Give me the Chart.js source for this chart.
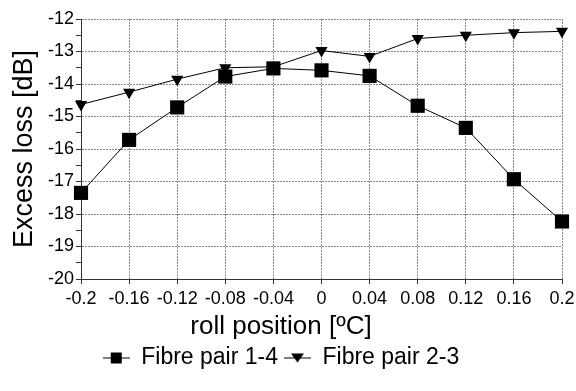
<!DOCTYPE html>
<html>
<head>
<meta charset="utf-8">
<script src="https://cdn.jsdelivr.net/npm/chart.js@4.4.1/dist/chart.umd.min.js"></script>
<style>
  html, body { margin: 0; padding: 0; background: #fff; }
  #wrap { width: 576px; height: 391px; }
</style>
</head>
<body>
<div id="wrap"><canvas id="lossChart" width="576" height="391"></canvas></div>
<script>
const rollPositions = ['-0.2', '-0.16', '-0.12', '-0.08', '-0.04', '0', '0.04', '0.08', '0.12', '0.16', '0.2'];
const pair14Loss = [-17.35, -15.72, -14.72, -13.77, -13.52, -13.58, -13.75, -14.67, -15.35, -16.93, -18.23];
const pair23Loss = [-14.63, -14.25, -13.85, -13.5, -13.47, -12.97, -13.15, -12.6, -12.5, -12.42, -12.38];
const seriesNames = ['Fibre pair 1-4', 'Fibre pair 2-3'];

const FONT = "'Liberation Sans', Arial, sans-serif";

// small line-with-marker icons for the legend
function legendIcon(kind) {
    const c = document.createElement('canvas');
    c.width = 27; c.height = 14;
    const g = c.getContext('2d');
    g.strokeStyle = '#000';
    g.lineWidth = 1;
    g.beginPath(); g.moveTo(0, 7.5); g.lineTo(27, 7.5); g.stroke();
    g.fillStyle = '#000';
    if (kind === 'rect') {
        g.fillRect(8, 2, 11, 11);
    } else {
        g.beginPath(); g.moveTo(7, 3); g.lineTo(20, 3); g.lineTo(13.5, 12); g.closePath(); g.fill();
    }
    return c;
}
const icons = [legendIcon('rect'), legendIcon('tri')];

const ctx = document.getElementById('lossChart').getContext('2d');
const lossChart = new Chart(ctx, {
    type: 'line',
    data: {
        labels: rollPositions,
        datasets: [{
            label: seriesNames[0],
            data: pair14Loss,
            borderColor: '#000',
            backgroundColor: '#000',
            borderWidth: 1,
            pointStyle: 'rect',
            pointRadius: 10,
            pointBackgroundColor: '#000',
            pointBorderWidth: 0,
            tension: 0
        }, {
            label: seriesNames[1],
            data: pair23Loss,
            borderColor: '#000',
            backgroundColor: '#000',
            borderWidth: 1,
            pointStyle: 'triangle',
            pointRotation: 180,
            pointRadius: 7,
            pointBackgroundColor: '#000',
            pointBorderWidth: 0,
            tension: 0
        }]
    },
    options: {
        responsive: false,
        animation: false,
        layout: { padding: { left: 0, right: 14, top: 19, bottom: 12 } },
        scales: {
            x: {
                type: 'category',
                offset: false,
                afterFit: (scale) => { scale.paddingRight = 0; scale.paddingLeft = 0; },
                grid: {
                    color: '#8a8a8a',
                    tickColor: '#333',
                    tickLength: 5
                },
                border: { color: '#333', width: 1, dash: [2, 1] },
                ticks: {
                    color: '#000',
                    font: { family: FONT, size: 18, lineHeight: 1 },
                    padding: 6,
                    maxRotation: 0,
                    autoSkip: false
                }
            },
            y: {
                min: -20,
                max: -12,
                afterFit: (scale) => { scale.width = 81; },
                grid: {
                    color: (c) => Number.isInteger(c.tick.value) ? '#8a8a8a' : 'rgba(0,0,0,0)',
                    tickColor: '#333',
                    tickLength: 5
                },
                border: { color: '#333', width: 1, dash: [2, 1] },
                ticks: {
                    stepSize: 0.5,
                    autoSkip: false,
                    color: '#000',
                    font: { family: FONT, size: 18 },
                    padding: 2,
                    callback: (v) => Number.isInteger(v) ? String(v) : ''
                },
                title: {
                    display: true,
                    text: 'Excess loss [dB]',
                    color: '#000',
                    font: { family: FONT, size: 27 },
                    padding: { top: 8, bottom: 0 }
                }
            }
        },
        plugins: {
            title: {
                display: true,
                position: 'bottom',
                text: 'roll position [ºC]',
                color: '#000',
                font: { family: FONT, size: 26, weight: 'normal', lineHeight: 1 },
                padding: { top: 0, bottom: 0 },
                weight: 100
            },
            legend: {
                position: 'bottom',
                weight: 500,
                labels: {
                    color: '#000',
                    font: { family: FONT, size: 23 },
                    usePointStyle: true,
                    pointStyleWidth: 27,
                    boxHeight: 14,
                    padding: 6,
                    generateLabels: (chart) => {
                        const items = Chart.defaults.plugins.legend.labels.generateLabels(chart);
                        items.forEach((it, i) => { it.pointStyle = icons[i]; it.rotation = 0; });
                        return items;
                    }
                }
            },
            tooltip: { enabled: false }
        }
    }
});
</script>
</body>
</html>
